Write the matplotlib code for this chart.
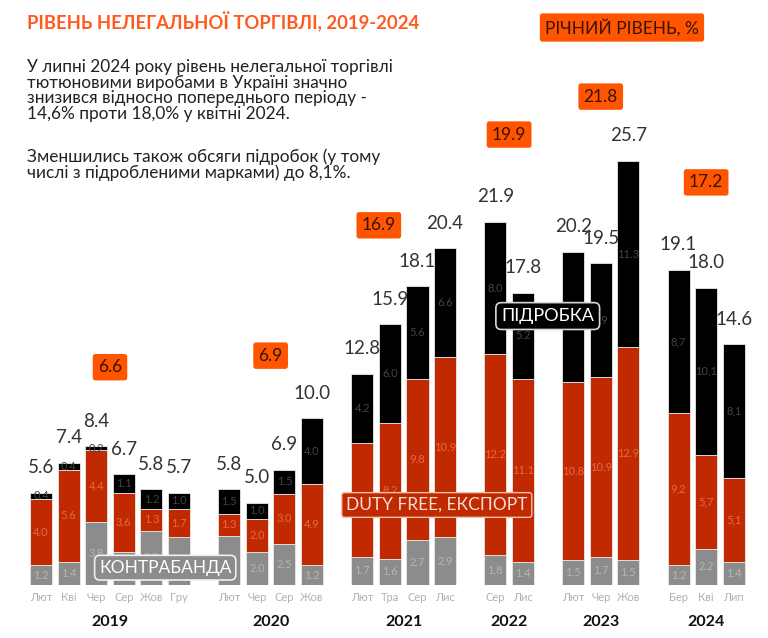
import matplotlib.pyplot as plt

plt.rcParams['font.family'] = ['Lato', 'DejaVu Sans']

# data
years = ['2019', '2020', '2021', '2022', '2023', '2024']
months = [
    ['Лют', 'Кві', 'Чер', 'Сер', 'Жов', 'Гру'],
    ['Лют', 'Чер', 'Сер', 'Жов'],
    ['Лют', 'Тра', 'Сер', 'Лис'],
    ['Сер', 'Лис'],
    ['Лют', 'Чер', 'Жов'],
    ['Бер', 'Кві', 'Лип'],
]
contraband = [1.2, 1.4, 3.8, 2.0, 3.3, 2.9,
              3.0, 2.0, 2.5, 1.2,
              1.7, 1.6, 2.7, 2.9,
              1.8, 1.4,
              1.5, 1.7, 1.5,
              1.2, 2.2, 1.4]
dutyfree = [4.0, 5.6, 4.4, 3.6, 1.3, 1.7,
            1.3, 2.0, 3.0, 4.9,
            6.9, 8.2, 9.8, 10.9,
            12.2, 11.1,
            10.8, 10.9, 12.9,
            9.2, 5.7, 5.1]
fake = [0.4, 0.4, 0.2, 1.1, 1.2, 1.0,
        1.5, 1.0, 1.5, 4.0,
        4.2, 6.0, 5.6, 6.6,
        8.0, 5.2,
        7.9, 6.9, 11.3,
        8.7, 10.1, 8.1]
totals = [5.6, 7.4, 8.4, 6.7, 5.8, 5.7,
          5.8, 5.0, 6.9, 10.0,
          12.8, 15.9, 18.1, 20.4,
          21.9, 17.8,
          20.2, 19.5, 25.7,
          19.1, 18.0, 14.6]
annual = [6.6, 6.9, 16.9, 19.9, 21.8, 17.2]

GREY = '#8c8c8c'
RED = '#c12a00'
ORANGE = '#ff5500'

# slot positions, with an extra gap between years
gap = 0.82
xs, xyear, grp = [], [], []
i = 0
for g, ms in enumerate(months):
    start = len(xs)
    for m in ms:
        xs.append(i + g * gap)
        grp.append(g)
        i += 1
    xyear.append((xs[start] + xs[-1]) / 2)
labels_x = [m for ms in months for m in ms]

fig = plt.figure(figsize=(7.68, 6.38), dpi=100)
ax = fig.add_axes([0, 53 / 638, 1, 585 / 638])
ax.set_xlim(-41 / 27.6, (768 - 41) / 27.6)
ax.set_ylim(0, 585 / 16.5)
ax.axis('off')

w = 0.8
bot2 = [a + b for a, b in zip(contraband, dutyfree)]
ax.bar(xs, contraband, w, color=GREY, edgecolor='#e8e8e8', linewidth=0.6)
ax.bar(xs, dutyfree, w, bottom=contraband, color=RED, edgecolor='#e8e8e8', linewidth=0.6)
ax.bar(xs, fake, w, bottom=bot2, color='black', edgecolor='#e8e8e8', linewidth=0.6)


def fmt(v, g):
    s = f'{v:.1f}'
    return s.replace('.', ',') if g == 5 else s


for k, x in enumerate(xs):
    g = grp[k]
    ax.text(x, contraband[k] / 2, f'{contraband[k]:.1f}', ha='center', va='center',
            fontsize=8, color='#b5b5b5')
    ax.text(x, contraband[k] + dutyfree[k] / 2, fmt(dutyfree[k], g), ha='center', va='center',
            fontsize=8, color='#e0694a')
    ax.text(x, bot2[k] + fake[k] / 2, fmt(fake[k], g), ha='center', va='center',
            fontsize=8, color='#444444')
    ax.annotate(f'{totals[k]:.1f}', (x, bot2[k] + fake[k]), xytext=(0, 18),
                textcoords='offset points', ha='center', va='center',
                fontsize=13.5, color='#333333')
    ax.annotate(labels_x[k], (x, 0), xytext=(0, -9), textcoords='offset points',
                ha='center', va='center', fontsize=8, color='#b0b0b0', annotation_clip=False)

for g, y in enumerate(years):
    ax.annotate(y, (xyear[g], 0), xytext=(0, -27), textcoords='offset points',
                ha='center', va='center', fontsize=11.5, fontweight='bold', color='#111111',
                annotation_clip=False)

# annual badges
badge_x = [xyear[0], xyear[1], xs[10] + 0.6, xyear[3], xyear[4], xyear[5]]
badge_y = [13.2, 13.9, 21.8, 27.3, 29.6, 24.4]
for g, v in enumerate(annual):
    ax.text(badge_x[g], badge_y[g], f'{v:.1f}', ha='center', va='center', fontsize=12.5,
            color='#3a1205',
            bbox=dict(boxstyle='round,pad=0.3,rounding_size=0.15', fc=ORANGE, ec='none'))

# category tags
ax.text(xs[3] + 1.5, 1.05, 'КОНТРАБАНДА', ha='center', va='center', fontsize=12.5,
        color='white',
        bbox=dict(boxstyle='round,pad=0.25,rounding_size=0.3', fc=GREY, ec='#f0f0f0', lw=1.2))
ax.text(xs[11] + 1.7, 4.85, 'DUTY FREE, ЕКСПОРТ', ha='center', va='center', fontsize=12.5,
        color='#f5e0d8',
        bbox=dict(boxstyle='round,pad=0.25,rounding_size=0.15', fc=RED, ec='#f0c0b0', lw=1.0))
ax.text(xs[15] + 0.9, 16.3, 'ПІДРОБКА', ha='center', va='center', fontsize=13,
        color='white',
        bbox=dict(boxstyle='round,pad=0.3,rounding_size=0.3', fc='black', ec='#d8d8d8', lw=1.2))

# header
fig.text(27 / 768, 1 - 22 / 638, 'РІВЕНЬ НЕЛЕГАЛЬНОЇ ТОРГІВЛІ, 2019-2024', ha='left', va='center',
         fontsize=13.3, fontweight='bold', color='#ff5a1f')
fig.text(622 / 768, 1 - 27.5 / 638, 'РІЧНИЙ РІВЕНЬ, %', ha='center', va='center', fontsize=12.5,
         color='#3a1205',
         bbox=dict(boxstyle='round,pad=0.3,rounding_size=0.15', fc=ORANGE, ec='none'))
para1 = ('У липні 2024 року рівень нелегальної торгівлі\n'
         'тютюновими виробами в Україні значно\n'
         'знизився відносно попереднього періоду -\n'
         '14,6% проти 18,0% у квітні 2024.')
para2 = ('Зменшились також обсяги підробок (у тому\n'
         'числі з підробленими марками) до 8,1%.')
fig.text(27 / 768, 1 - 59 / 638, para1, ha='left', va='top', fontsize=12.4, color='#222222',
         linespacing=0.98)
fig.text(27 / 768, 1 - 148 / 638, para2, ha='left', va='top', fontsize=12.4, color='#222222',
         linespacing=0.98)

fig.savefig('out.png', dpi=100, facecolor='white')
